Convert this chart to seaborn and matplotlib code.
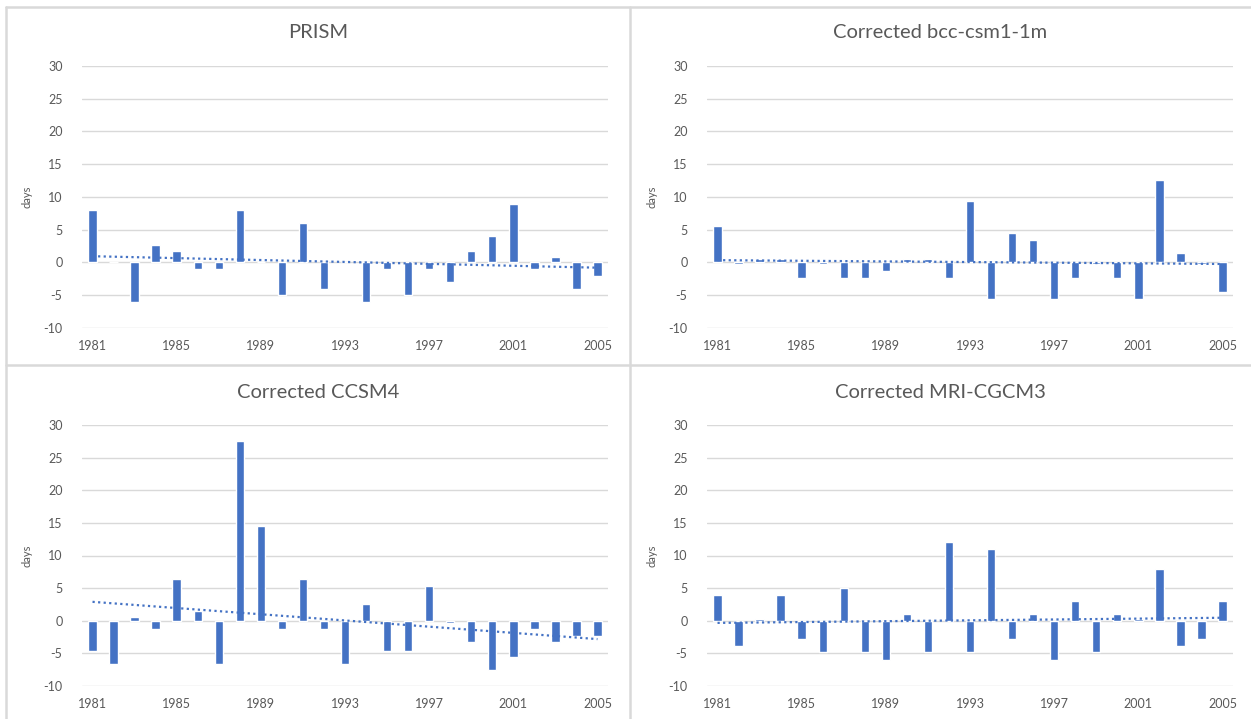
import numpy as np
import pandas as pd
import matplotlib
matplotlib.use("Agg")
import matplotlib.pyplot as plt
from matplotlib.lines import Line2D
import seaborn as sns

years = list(range(1981, 2006))

prism = [8, 0, -6, 2.7, 1.8, -1, -1, 8, 0, -5, 6, -4, 0, -6, -1, -5, -1, -3,
         1.8, 4, 9, -1, 0.8, -4, -2]
bcc = [5.5, -0.3, 0.5, 0.5, -2.3, -0.3, -2.3, -2.3, -1.3, 0.5, 0.5, -2.3, 9.4,
       -5.5, 4.5, 3.5, -5.5, -2.3, -0.3, -2.3, -5.5, 12.6, 1.5, -0.3, -4.5]
ccsm4 = [-4.6, -6.6, 0.5, -1.3, 6.4, 1.5, -6.6, 27.6, 14.5, -1.3, 6.4, -1.3,
         -6.6, 2.5, -4.6, -4.6, 5.4, -0.3, -3.3, -7.6, -5.6, -1.3, -3.3, -2.4, -2.4]
mri = [4, -3.8, 0.3, 4, -2.8, -4.8, 5, -4.8, -6, 1, -4.8, 12, -4.8, 11, -2.8,
       1, -6, 3, -4.8, 1, 0.3, 8, -3.8, -2.8, 3]

titles = ["PRISM", "Corrected bcc-csm1-1m", "Corrected CCSM4", "Corrected MRI-CGCM3"]
series = [prism, bcc, ccsm4, mri]
y_ticks = [-10, -5, 0, 5, 10, 15, 20, 25, 30]

sns.set_theme(style="white")
plt.rcParams["font.family"] = ["Lato", "DejaVu Sans"]

BLUE = "#4472C4"
GRID = "#D9D9D9"
TEXT = "#595959"

W, H = 1251, 719
fig = plt.figure(figsize=(W / 100, H / 100), dpi=100)

# plot-area boxes in pixels: (left, top, right, bottom)
boxes = [(82, 66, 608, 328), (707, 66, 1233, 328),
         (82, 425, 608, 686), (707, 425, 1233, 686)]
panel_centers = [(318, 33), (940, 33), (318, 392), (940, 392)]

for vals, title, (l, t, r, b), (cx, cy) in zip(series, titles, boxes, panel_centers):
    ax = fig.add_axes([l / W, 1 - b / H, (r - l) / W, (b - t) / H])
    df = pd.DataFrame({"year": years, "days": vals})
    sns.barplot(data=df, x="year", y="days", ax=ax, color=BLUE,
                saturation=1, width=0.4, zorder=3)
    # linear trend over the year index
    idx = np.arange(len(years))
    k, c = np.polyfit(idx, vals, 1)
    ax.plot(idx, k * idx + c, color=BLUE, lw=1.6,
            linestyle=(0, (1.0, 1.5)), dash_capstyle="butt", zorder=4)
    ax.set_xlim(-0.5, len(years) - 0.5)
    ax.set_ylim(-10, 30)
    ax.set_yticks(y_ticks)
    ax.set_yticklabels([str(v) for v in y_ticks])
    ax.set_xticks(idx[::4])
    ax.set_xticklabels([str(y) for y in years[::4]])
    ax.tick_params(axis="both", length=0, labelsize=9, colors=TEXT)
    ax.tick_params(axis="y", pad=14)
    ax.tick_params(axis="x", pad=9)
    ax.grid(axis="y", color=GRID, lw=1.0, zorder=0)
    ax.set_axisbelow(True)
    for s in ax.spines.values():
        s.set_visible(False)
    ax.set_xlabel("")
    ax.set_ylabel("days", fontsize=8, color=TEXT, labelpad=8)
    fig.text(cx / W, 1 - cy / H, title, ha="center", va="center",
             fontsize=14.5, color=TEXT)

# chart area borders
def hline(y, x0, x1):
    fig.add_artist(Line2D([x0 / W, x1 / W], [1 - y / H, 1 - y / H],
                          color=GRID, lw=1.8))

def vline(x, y0, y1):
    fig.add_artist(Line2D([x / W, x / W], [1 - y0 / H, 1 - y1 / H],
                          color=GRID, lw=1.8))

hline(7, 6, W)
hline(365, 6, W)
vline(6, 7, H)
vline(630, 7, H)

fig.savefig("out.png", dpi=100, facecolor="white")
